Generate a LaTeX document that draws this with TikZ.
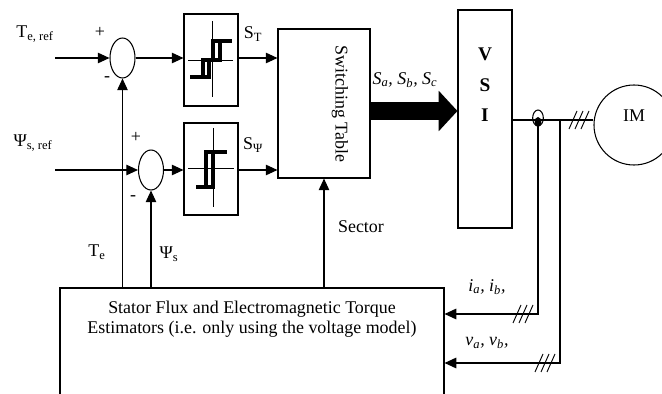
\documentclass[tikz,border=0pt]{standalone}
\usepackage{fontspec}
\setmainfont{Liberation Serif}
\usetikzlibrary{arrows.meta,shapes.geometric}
\begin{document}
\begin{tikzpicture}[x=0.03cm,y=-0.03cm,
  font=\fontsize{15.3}{17}\selectfont,
  line width=0.9pt,
  arr/.style={-{Triangle[length=10pt,width=9pt]}},
  hystbox/.style={draw,minimum width=1.62cm,minimum height=2.76cm,inner sep=0pt},
  sumc/.style={draw,ellipse,minimum width=0.75cm,minimum height=1.2cm,inner sep=0pt},
  hyst/.style={line width=3.4pt},
  axis/.style={line width=0.6pt},
  ticks/.style={line width=0.8pt}]
\clip (0,0) rectangle (662,394);
\node[sumc] (sum1) at (122.5,58) {};
\node[sumc] (sum2) at (151,170) {};
\node[hystbox] (hT) at (211,60) {};
\node[hystbox] (hF) at (211,169) {};
\node[draw,minimum width=2.76cm,minimum height=4.47cm] (sw) at (324,103.5) {};
\node[rotate=-90] (swt) at (340,104) {Switching Table};
\node[draw,minimum width=1.62cm,minimum height=6.54cm] (vsi) at (485,119) {};
\node[align=center,font=\fontsize{16.5}{26}\selectfont\bfseries] (vsit) at (485,85) {V\\S\\I};
\node[draw,circle,minimum size=2.4cm,inner sep=0pt] (im) at (634,125) {};
\node (imt) at (634,116) {IM};
\node[draw,minimum width=11.52cm,minimum height=3.36cm] (est) at (252,344) {};
\node[align=center] (estt) at (252,319) {Stator Flux and Electromagnetic Torque\\Estimators (i.e. only using the voltage model)};
\begin{scope}[shift={(hT.center)}]
\draw[axis] (1,-39) -- (1,37) (-23,0) -- (22,0);
\draw[hyst] (-21,17) -- (-8,17) (-8,0) rectangle (-2,17) (2,-19) rectangle (9,0) (9,-19) -- (21,-19) (-8,0) -- (9,0);
\end{scope}
\begin{scope}[shift={(hF.center)}]
\draw[axis] (2,-41) -- (2,38) (-23,-1) -- (23,-1);
\draw[hyst] (-15,18) -- (-5,18) (-5,-17) rectangle (2,18) (2,-17) -- (16,-17);
\end{scope}
\coordinate (in1) at (55,58);
\coordinate (in2) at (55,170);
\draw[arr] (in1) -- (sum1);
\draw[arr] (sum1) -- (sum1 -| hT.west);
\draw[arr] (sum1 -| hT.east) -- (sum1 -| sw.west);
\draw[arr] (in2) -- (sum2);
\draw[arr] (sum2) -- (sum2 -| hF.west);
\draw[arr] (sum2 -| hF.east) -- (sum2 -| sw.west);
\draw[arr] (est.north -| sum1) -- (sum1);
\draw[arr] (est.north -| sum2) -- (sum2);
\draw[arr] (est.north -| sw) -- (sw);
\draw[line width=16pt,-{Triangle[length=0pt 1,width=0pt 2.1]}] ([yshift=-0.225cm]sw.east) -- ([yshift=-0.225cm]sw.east -| vsi.west);
\coordinate (itap) at (538,120);
\coordinate (vtap) at (560,120);
\draw (vsi.east |- itap) -- (itap -| im.west);
\draw ([yshift=0.06cm]itap) ellipse [x radius=0.16cm,y radius=0.24cm];
\fill ([yshift=-0.06cm]itap) ellipse [x radius=0.1cm,y radius=0.15cm];
\draw[arr] (itap) |- ([yshift=0.9cm]est.east);
\draw[arr] (vtap) |- ([yshift=-0.57cm]est.east);
\foreach \p in {(579,120),(523,314),(545,363)}
  \foreach \d in {-6,0,6}
    \draw[ticks,shift={\p}] (\d-4,9) -- (\d+4,-9);
\node (lTref) at (35,34) {T\textsubscript{e, ref}};
\node (lFref) at (33,143) {Ψ\textsubscript{s, ref}};
\node (p1) at (100,32) {+};
\node (m1) at (107,79) {-};
\node (p2) at (136,137) {+};
\node (m2) at (133,198) {-};
\node (lST) at (253,34) {S\textsubscript{T}};
\node (lSF) at (253,145) {S\textsubscript{Ψ}};
\node (lSabc) at (405,80) {\textit{S\textsubscript{a}, S\textsubscript{b}, S\textsubscript{c}}};
\node (lTe) at (97,252) {T\textsubscript{e}};
\node (lPs) at (169,254) {Ψ\textsubscript{s}};
\node (lsec) at (361,227) {Sector};
\node (liab) at (487,287) {\textit{i\textsubscript{a}, i\textsubscript{b},}};
\node (lvab) at (487,343) {\textit{v\textsubscript{a}, v\textsubscript{b},}};
\end{tikzpicture}
\end{document}
